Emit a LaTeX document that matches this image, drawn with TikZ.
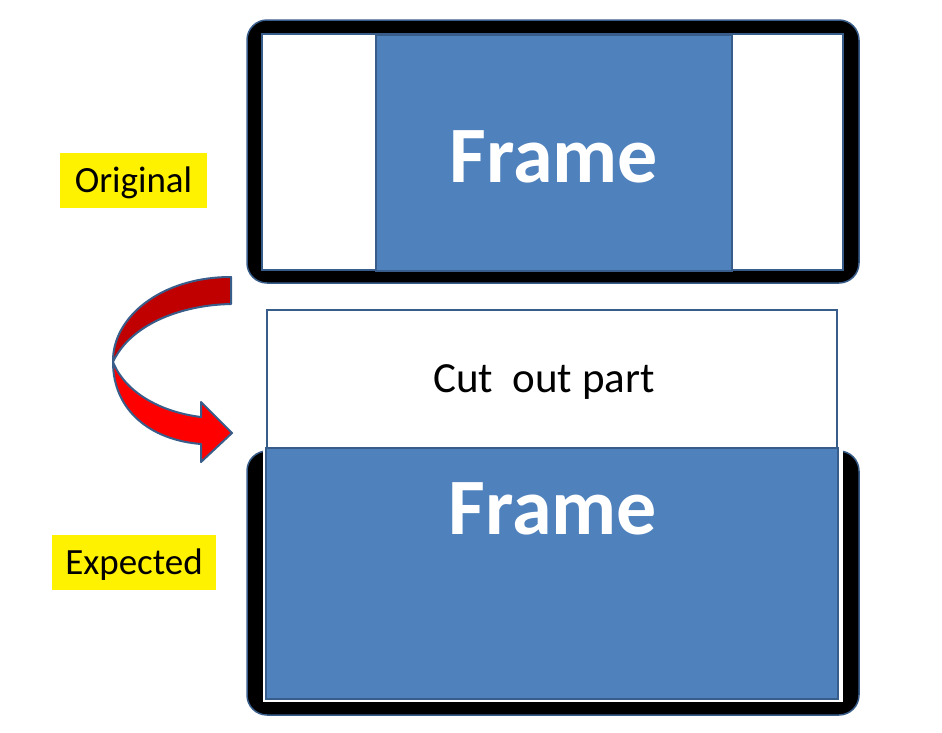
\documentclass[tikz,border=0pt]{standalone}
\usepackage{fontspec}
\setmainfont{Carlito}
\definecolor{framefill}{HTML}{4F81BD}
\definecolor{frameline}{HTML}{385D8A}
\definecolor{arrowdark}{HTML}{C00000}
\definecolor{arrowlight}{HTML}{FF0000}
\begin{document}
\begin{tikzpicture}[x=1pt,y=-1pt,
  holder/.style={fill=black,draw=frameline,line width=1.5pt,rounded corners=20pt},
  bluebox/.style={fill=framefill,draw=frameline,line width=1.5pt,inner sep=0pt},
  tag/.style={fill=yellow,inner sep=0pt,minimum height=55pt,text height=31pt,text depth=7pt,
    font=\fontsize{37}{37}\selectfont},
  bigword/.style={text=white,font=\fontsize{80}{80}\selectfont\bfseries}]
  \useasboundingbox (0,0) rectangle (942,732);
  \draw[holder] (247,20) rectangle (859,283);
  \draw[fill=white,draw=frameline,line width=1.5pt] (262,34) rectangle (843,270);
  \node[bluebox,bigword,minimum width=356pt,minimum height=236pt,text height=59pt,text depth=0pt]
    (origframe) at (554,153) {Frame};
  \draw[holder] (247,451) rectangle (859,715);
  \fill[white] (262.5,447) rectangle (842.5,702);
  \node[bluebox,minimum width=572pt,minimum height=251pt] (expframe) at (552,573.5) {};
  \node[bigword] (expword) at (553,509) {Frame};
  \node[draw=frameline,fill=white,line width=1.5pt,minimum width=570pt,minimum height=138pt]
    (cutout) at (552,379) {};
  \node[font=\fontsize{43}{43}\selectfont] (cuttext) at (544,382) {Cut\ \ out part};
  \node[tag,minimum width=147pt] (original) at (133.5,180.5) {Original};
  \node[tag,minimum width=164pt] (expected) at (134,562.5) {Expected};
  \filldraw[fill=arrowlight,draw=frameline,line width=2pt,line join=round]
    (113,362) .. controls (113,410) and (150,440) .. (201,444) -- (201,462) -- (232,433)
    -- (201,402) -- (201,417) .. controls (160,412) and (125,392) .. (113,362) -- cycle;
  \filldraw[fill=arrowdark,draw=frameline,line width=2pt,line join=round]
    (231,277) .. controls (160,277) and (112,318) .. (113,362)
    .. controls (130,325) and (180,305) .. (231,304) -- cycle;
\end{tikzpicture}
\end{document}
